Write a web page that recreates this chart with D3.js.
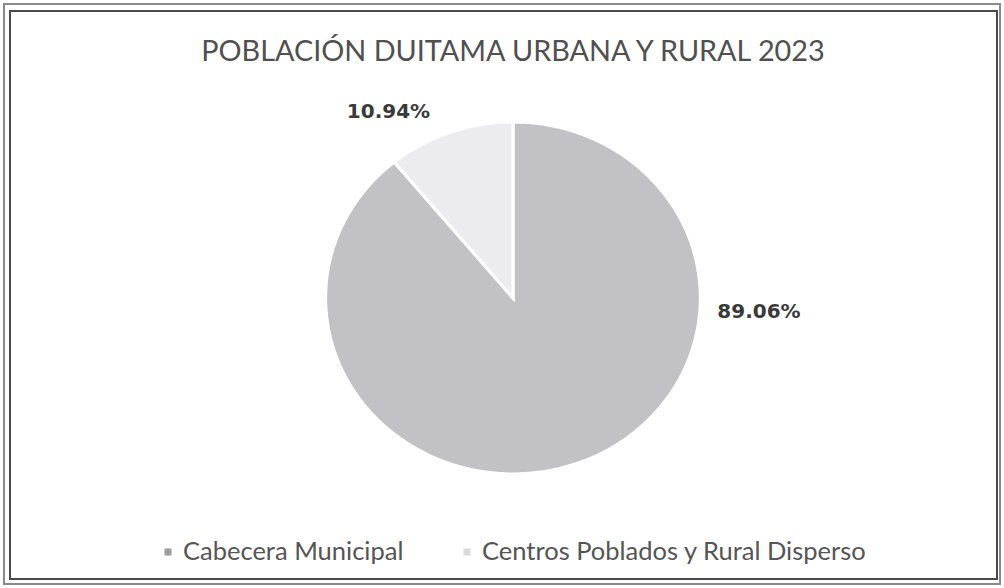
<!DOCTYPE html>
<html>
<head>
<meta charset="utf-8">
<script src="https://cdn.jsdelivr.net/npm/d3@7"></script>
<style>
  body { margin: 0; background: #fff; }
</style>
</head>
<body>
<div id="chart"></div>
<script>
// Data
const categories = ["Cabecera Municipal", "Centros Poblados y Rural Disperso"];
const shares = [89.06, 10.94];
const labels = ["89.06%", "10.94%"];
const title = "POBLACIÓN DUITAMA URBANA Y RURAL 2023";

const width = 1004, height = 588;

const svg = d3.select("#chart")
    .append("svg")
    .attr("width", width)
    .attr("height", height);

// double frame
svg.append("rect")
    .attr("x", 4).attr("y", 4).attr("width", 996).attr("height", 580)
    .attr("fill", "none").attr("stroke", "#8a8a8a").attr("stroke-width", 2);
svg.append("rect")
    .attr("x", 10).attr("y", 11).attr("width", 987).attr("height", 568)
    .attr("fill", "none").attr("stroke", "#4a4a4a").attr("stroke-width", 2);

// Title
svg.append("text")
    .attr("x", 513)
    .attr("y", 61)
    .attr("text-anchor", "middle")
    .style("font-family", "Lato, sans-serif")
    .style("font-size", "28.8px")
    .style("fill", "#505050")
    .text(title);

// Color palette
const color = d3.scaleOrdinal()
    .domain(categories)
    .range(["#c1c1c6", "#ececf0"]);

// Pie (slightly wider than tall, like the scan)
const cx = 513, cy = 298, r = 176;
const pie = d3.pie().sort(null).value(d => d.value);
const arc = d3.arc().innerRadius(0).outerRadius(r);

const data = categories.map((c, i) => ({ name: c, value: shares[i], label: labels[i] }));

const g = svg.append("g")
    .attr("transform", `translate(${cx},${cy}) scale(1.065,1)`);

g.selectAll("path")
    .data(pie(data))
    .join("path")
    .attr("d", arc)
    .attr("fill", d => color(d.data.name))
    .attr("stroke", "#fff")
    .attr("stroke-width", 3);

// Data labels (best fit, outside the pie)
const labelPos = [[246, 12.5], [-124.5, -187.5]];
svg.selectAll(".lbl")
    .data(data)
    .join("text")
    .attr("class", "lbl")
    .attr("x", (d, i) => cx + labelPos[i][0])
    .attr("y", (d, i) => cy + labelPos[i][1])
    .attr("text-anchor", "middle")
    .attr("dominant-baseline", "central")
    .style("font-family", "'DejaVu Sans', sans-serif")
    .style("font-weight", "bold")
    .style("font-size", "20px")
    .style("fill", "#3a3a3a")
    .text(d => d.label);

// Legend
const legendX = [168, 467];
const legendFill = ["#9e9ea3", "#dcdce0"];
const leg = svg.selectAll(".leg")
    .data(categories)
    .join("g")
    .attr("class", "leg")
    .attr("transform", (d, i) => `translate(${legendX[i]},552)`);

leg.append("rect")
    .attr("x", -3.5).attr("y", -3.5).attr("width", 7).attr("height", 7)
    .attr("fill", (d, i) => legendFill[i]);

leg.append("text")
    .attr("x", 15)
    .attr("y", 8)
    .style("font-family", "Lato, sans-serif")
    .style("font-size", "25.5px")
    .style("fill", "#555")
    .text(d => d);
</script>
</body>
</html>
